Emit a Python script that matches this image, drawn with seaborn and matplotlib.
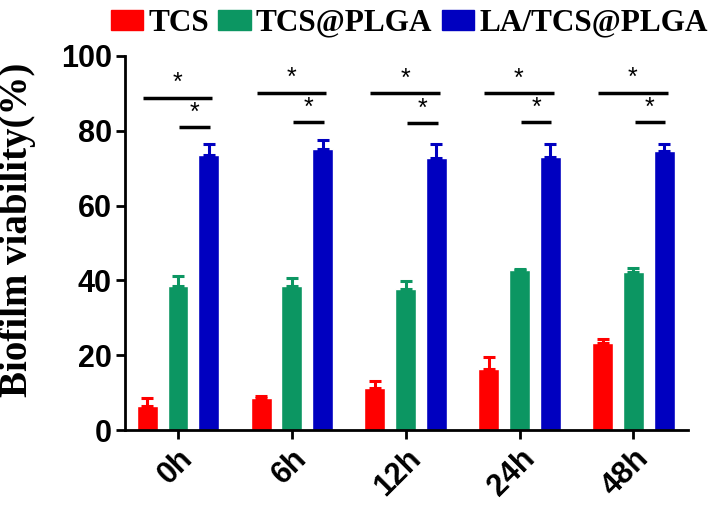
import numpy as np
import pandas as pd
import matplotlib
matplotlib.use("Agg")
import matplotlib.pyplot as plt
import seaborn as sns

# datos
times = ["0h", "6h", "12h", "24h", "48h"]
groups = ["TCS", "TCS@PLGA", "LA/TCS@PLGA"]

tcs_mean = [6.4, 8.6, 11.2, 16.3, 23.3]
tcs_sd = [2.2, 0.5, 1.9, 3.2, 1.0]
plga_mean = [38.6, 38.5, 37.7, 42.8, 42.3]
plga_sd = [2.7, 2.1, 2.1, 0.4, 1.1]
la_mean = [73.5, 75.1, 72.8, 73.1, 74.7]
la_sd = [2.9, 2.5, 3.8, 3.5, 1.9]

# lineas de significancia (altura en % para cada tiempo)
sig_long = [88.9, 90.2, 90.0, 90.0, 90.2]
sig_short = [80.9, 82.3, 82.0, 82.3, 82.3]

colors = ["#FF0000", "#0C9662", "#0000C0"]

sns.set_theme(style="ticks")
plt.rcParams["font.family"] = ["Liberation Sans", "DejaVu Sans"]
plt.rcParams["text.color"] = "black"
plt.rcParams["axes.labelcolor"] = "black"
plt.rcParams["xtick.color"] = "black"
plt.rcParams["ytick.color"] = "black"

df = pd.DataFrame({
    "time": times * 3,
    "group": [g for g in groups for _ in times],
    "mean": tcs_mean + plga_mean + la_mean,
    "sd": tcs_sd + plga_sd + la_sd,
})

fig = plt.figure(figsize=(7.08, 5.17), dpi=100)
ax = fig.add_axes([0.1766, 0.168, 0.7952, 0.7237])

sns.barplot(data=df, x="time", y="mean", hue="group", order=times,
            hue_order=groups, palette=colors, width=0.81, gap=0.32,
            errorbar=None, saturation=1, ax=ax, legend=False)

# barras de error solo hacia arriba
for container, g, col in zip(ax.containers, groups, colors):
    sub = df[df["group"] == g].set_index("time").loc[times]
    xs = [p.get_x() + p.get_width() / 2 for p in container.patches]
    ax.errorbar(xs, sub["mean"].values,
                yerr=[np.zeros(len(times)), sub["sd"].values],
                fmt="none", ecolor=col, elinewidth=2.2, capsize=4,
                capthick=2.2, zorder=3)

# marcas de significancia
for i in range(len(times)):
    ax.plot([i - 0.31, i + 0.30], [sig_long[i]] * 2, color="black", lw=2.5,
            solid_capstyle="butt")
    ax.text(i - 0.005, sig_long[i] + 2.0, "*", ha="center", va="baseline",
            fontsize=18, color="black")
    ax.plot([i + 0.01, i + 0.28], [sig_short[i]] * 2, color="black", lw=2.5,
            solid_capstyle="butt")
    ax.text(i + 0.145, sig_short[i] + 2.0, "*", ha="center", va="baseline",
            fontsize=18, color="black")

ax.set_ylim(0, 100)
ax.set_xlim(-0.465, 4.48)
ax.set_yticks([0, 20, 40, 60, 80, 100])
ax.set_xlabel("")
ax.set_ylabel("Biofilm viability(%)", fontsize=28, fontweight="bold",
              family=["Liberation Serif", "DejaVu Serif"])
ax.yaxis.set_label_coords(-0.158, 0.535)

for side in ["top", "right"]:
    ax.spines[side].set_visible(False)
for side in ["left", "bottom"]:
    ax.spines[side].set_linewidth(2.0)
    ax.spines[side].set_color("black")

ax.tick_params(axis="both", length=6.5, width=2.0, color="black",
               labelsize=22, pad=3)
for lab in ax.get_yticklabels():
    lab.set_fontweight("bold")
ax.set_xticks(range(len(times)))
ax.set_xticklabels(times, rotation=45, ha="right", rotation_mode="anchor",
                   fontweight="bold", fontsize=22)

handles = [plt.Rectangle((0, 0), 1, 1, color=c) for c in colors]
fig.legend(handles, groups, loc="upper right", bbox_to_anchor=(1.026, 1.019),
           ncol=3, frameon=False, handlelength=1.05, handleheight=0.65,
           handletextpad=0.15, columnspacing=0.3, borderaxespad=0.2,
           prop={"family": ["Liberation Serif", "DejaVu Serif"],
                 "weight": "bold", "size": 22.5})

fig.savefig("out.png", dpi=100)
